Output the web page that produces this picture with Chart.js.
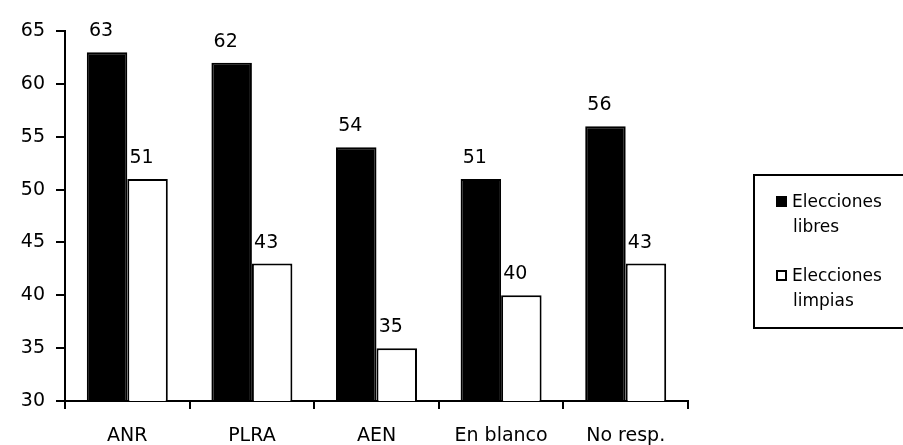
<!DOCTYPE html>
<html>
<head>
<meta charset="utf-8">
<title>Elecciones libres y limpias</title>
<script src="https://cdn.jsdelivr.net/npm/chart.js@4/dist/chart.umd.min.js"></script>
<style>
  html, body { margin: 0; padding: 0; background: #fff; }
  #wrap { width: 903px; height: 445px; }
</style>
</head>
<body>
<div id="wrap"><canvas id="c" width="903" height="445"></canvas></div>
<script>
// Party categories and the two survey series
const categories = ['ANR', 'PLRA', 'AEN', 'En blanco', 'No resp.'];
const libres = [63, 62, 54, 51, 56];
const limpias = [51, 43, 35, 40, 43];
const seriesNames = ['Elecciones libres', 'Elecciones limpias'];
const yMin = 30, yMax = 65, yStep = 5;

const FONT = '"DejaVu Sans", "Liberation Sans", Arial, sans-serif';

// Value written above each bar
const valueLabels = {
  id: 'valueLabels',
  afterDatasetsDraw(chart) {
    const ctx = chart.ctx;
    ctx.save();
    ctx.font = '19px ' + FONT;
    ctx.fillStyle = '#000';
    ctx.textAlign = 'center';
    ctx.textBaseline = 'alphabetic';
    chart.data.datasets.forEach((ds, i) => {
      chart.getDatasetMeta(i).data.forEach((bar, j) => {
        ctx.fillText(String(ds.data[j]), bar.x - 6, bar.y - 16);
      });
    });
    ctx.restore();
  }
};

// Boxed legend on the right, each name split over two lines
const boxLegend = {
  id: 'boxLegend',
  afterDraw(chart) {
    const ctx = chart.ctx;
    ctx.save();
    ctx.strokeStyle = '#000';
    ctx.lineWidth = 2;
    ctx.strokeRect(754, 175, 150, 153);
    ctx.font = '17px ' + FONT;
    ctx.textAlign = 'left';
    ctx.textBaseline = 'alphabetic';
    const baselines = [207, 281];
    chart.data.datasets.forEach((ds, i) => {
      const base = baselines[i];
      const words = ds.label.split(' ');
      // marker
      ctx.fillStyle = ds.backgroundColor;
      ctx.fillRect(776, base - 11, 11, 11);
      ctx.lineWidth = 2;
      ctx.strokeStyle = '#000';
      ctx.strokeRect(777, base - 10, 9, 9);
      ctx.fillStyle = '#000';
      ctx.fillText(words[0], 792, base);
      ctx.fillText(words.slice(1).join(' '), 793, base + 25);
    });
    ctx.restore();
  }
};

new Chart(document.getElementById('c'), {
  type: 'bar',
  data: {
    labels: categories,
    datasets: [
      {
        label: seriesNames[0],
        data: libres,
        backgroundColor: '#000',
        borderColor: '#000',
        borderWidth: 2
      },
      {
        label: seriesNames[1],
        data: limpias,
        backgroundColor: '#fff',
        borderColor: '#000',
        borderWidth: 2
      }
    ]
  },
  options: {
    responsive: false,
    animation: false,
    events: [],
    layout: { padding: { left: 8, top: 31, right: 215, bottom: 0 } },
    datasets: {
      bar: { categoryPercentage: 0.65, barPercentage: 1.0 }
    },
    plugins: {
      legend: { display: false },
      tooltip: { enabled: false },
      title: { display: false }
    },
    scales: {
      x: {
        offset: true,
        grid: {
          offset: true,
          drawOnChartArea: false,
          drawTicks: true,
          tickLength: 8,
          color: '#000',
          lineWidth: 2
        },
        border: { display: true, color: '#000', width: 2 },
        ticks: {
          color: '#000',
          font: { family: FONT, size: 19 },
          padding: 16,
          maxRotation: 0
        },
        afterFit(scale) { scale.height = 44; }
      },
      y: {
        min: yMin,
        max: yMax,
        grid: {
          drawOnChartArea: false,
          drawTicks: true,
          tickLength: 9,
          color: '#000',
          lineWidth: 2
        },
        border: { display: true, color: '#000', width: 2 },
        ticks: {
          stepSize: yStep,
          color: '#000',
          font: { family: FONT, size: 19 },
          padding: 11
        },
        afterFit(scale) { scale.width = 57; }
      }
    }
  },
  plugins: [valueLabels, boxLegend]
});
</script>
</body>
</html>
